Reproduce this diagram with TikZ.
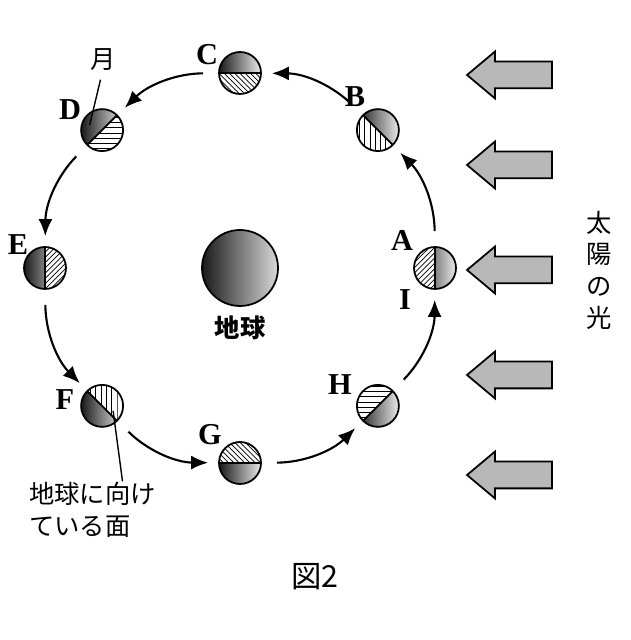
\documentclass[tikz,border=0pt]{standalone}
\usepackage{fontspec}
\setmainfont{Liberation Serif}
\newfontfamily\jpfont{Noto Sans CJK JP}
\usetikzlibrary{calc,patterns,shapes.arrows,arrows.meta}
\tikzstyle{moon}=[circle, minimum size=0.84cm, inner sep=0, draw, line width=1pt]
\tikzstyle{lbl}=[font=\bfseries\LARGE]
\tikzstyle{orbit}=[line width=1.2pt, -{Latex[length=3.4mm,width=2.8mm]}, shorten <=0.3cm, shorten >=0.2cm]
\tikzstyle{sunray}=[single arrow, draw, line width=1pt, fill=black!28, shape border rotate=180, minimum height=1.7cm, minimum width=0.9cm, inner sep=0.25cm, single arrow head extend=0.2cm, single arrow tip angle=80]

\begin{document}
\begin{tikzpicture}
\useasboundingbox (0,0) rectangle (12.6,12.8);

% earth
\coordinate (O) at (4.8, 7.44);
\shade [left color=black!90, right color=black!15] (O) circle (0.76);
\node [circle, minimum size=1.52cm, inner sep=0, draw, line width=1pt] (earth) at (O) {};
\node [font=\jpfont\bfseries\Large] (earthlbl) at (4.8, 6.24) {地球};

% moons: name / angle / pattern
\foreach \m/\a/\p in {A/0/north east lines, B/45/vertical lines, C/90/north west lines,
                      D/135/horizontal lines, E/180/north east lines, F/225/vertical lines,
                      G/270/north west lines, H/315/horizontal lines} {
  \coordinate (c\m) at ($(O)+(\a:3.9)$);
  \begin{scope}
    \clip (c\m) circle (0.42);
    \fill [pattern=\p, rotate around={\a:(c\m)}] ($(c\m)+(-0.5,-0.5)$) rectangle ($(c\m)+(0,0.5)$);
    \clip [rotate around={\a:(c\m)}] ($(c\m)+(0,-0.5)$) rectangle ($(c\m)+(0.5,0.5)$);
    \shade [left color=black!90, right color=black!8] ($(c\m)+(-0.42,-0.42)$) rectangle ($(c\m)+(0.42,0.42)$);
  \end{scope}
  \draw [line width=1pt, rotate around={\a:(c\m)}] ($(c\m)+(0,-0.42)$) -- ($(c\m)+(0,0.42)$);
  \node [moon] (\m) at (c\m) {};
}

% orbit arrows
\draw [orbit] (A) to[bend right=22] (B);
\draw [orbit] (B) to[bend right=22] (C);
\draw [orbit] (C) to[bend right=22] (D);
\draw [orbit] (D) to[bend right=22] (E);
\draw [orbit] (E) to[bend right=22] (F);
\draw [orbit] (F) to[bend right=22] (G);
\draw [orbit] (G) to[bend right=22] (H);
\draw [orbit] (H) to[bend right=22] (A);

% letters
\node [lbl] (lA) at (8.04, 8.0) {A};
\node [lbl] (lI) at (8.1, 6.8) {I};
\node [lbl] (lB) at (7.1, 10.86) {B};
\node [lbl] (lC) at (4.14, 11.7) {C};
\node [lbl] (lD) at (1.4, 10.6) {D};
\node [lbl] (lE) at (0.36, 7.9) {E};
\node [lbl] (lF) at (1.3, 4.8) {F};
\node [lbl] (lG) at (4.2, 4.1) {G};
\node [lbl] (lH) at (6.8, 5.1) {H};

% callouts
\node [font=\jpfont\Large] (tsuki) at (2.06, 11.6) {月};
\draw [line width=0.8pt] ($(tsuki.south)+(-0.05,-0.05)$) -- ($(D)+(-0.25,0.1)$);
\node [font=\jpfont\Large, align=left] (face) at (1.85, 2.6) {地球に向け\\ている面};
\draw [line width=0.8pt] ($(F)+(0.22,-0.1)$) -- ($(face.north)+(0.6,-0.1)$);

% sunlight
\foreach \i/\y in {1/11.3, 2/9.5, 3/7.4, 4/5.3, 5/3.3} {
  \node [sunray] (sun\i) at (10.35, \y) {};
}
\node [font=\jpfont\Large, align=center] (sunlbl) at (11.98, 7.4) {太\\陽\\の\\光};

\node [font=\jpfont\LARGE] (title) at (6.3, 1.26) {図2};

\end{tikzpicture}
\end{document}
